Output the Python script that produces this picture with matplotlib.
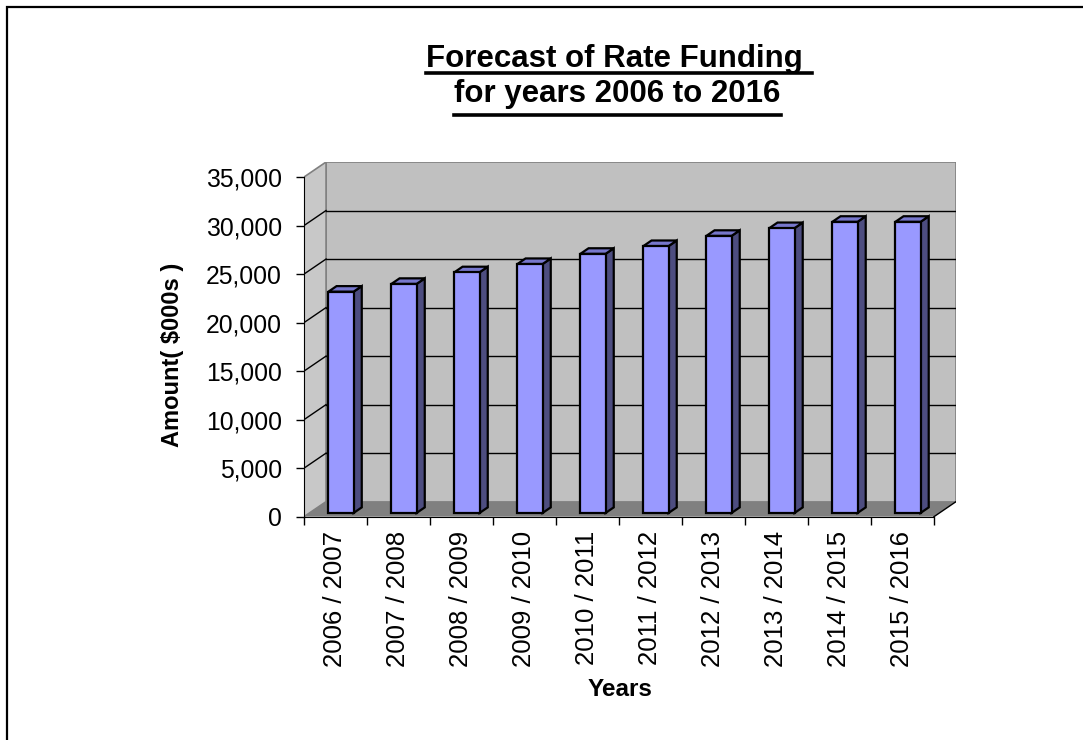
import numpy as np
import matplotlib.pyplot as plt
from matplotlib.patches import Polygon, Rectangle
from matplotlib.lines import Line2D
from matplotlib.ticker import StrMethodFormatter

plt.rcParams['font.family'] = ['Liberation Sans', 'DejaVu Sans']

# Daten
jahre = ['2006 / 2007', '2007 / 2008', '2008 / 2009', '2009 / 2010',
         '2010 / 2011', '2011 / 2012', '2012 / 2013', '2013 / 2014',
         '2014 / 2015', '2015 / 2016']
betraege = [22800, 23600, 24800, 25650, 26700, 27500, 28550, 29350, 30000, 30000]
y_ticks = [0, 5000, 10000, 15000, 20000, 25000, 30000, 35000]

# 3D-Versatz der Rueckwand (x in Kategorien, y in Werteinheiten)
DX, DY = 0.35, 1550
YMAX = 35000
F0, F1 = 0.25, 0.62      # Tiefe der Balken (Vorder-/Rueckseite)
BREITE = 0.4

fig = plt.figure(figsize=(10.83, 7.40), dpi=100)
ax = fig.add_axes([304 / 1083, 1 - 516.7 / 740, 652 / 1083, 354.7 / 740])
ax.patch.set_visible(False)
n = len(jahre)
ax.set_xlim(0, n + DX)
ax.set_ylim(0, YMAX + DY)

wand = '#c0c0c0'
rand = '#808080'
# Rueckwand, linke Wand, Boden
ax.add_patch(Rectangle((DX, DY), n, YMAX, facecolor=wand, edgecolor=rand,
                       lw=1.2, zorder=0.5))
ax.add_patch(Polygon([(0, 0), (DX, DY), (DX, YMAX + DY), (0, YMAX)],
                     facecolor='#c8c8c8', edgecolor=rand, lw=1.2, zorder=0.5))
ax.add_patch(Polygon([(0, 0), (n, 0), (n + DX, DY), (DX, DY)],
                     facecolor='#808080', edgecolor='none', zorder=0.6))
ax.plot([n, n + DX], [0, DY], color='black', lw=1, zorder=0.7)

# Gitterlinien auf Rueck- und Seitenwand
for v in y_ticks[1:-1]:
    ax.plot([DX, n + DX], [v + DY, v + DY], color='black', lw=1, zorder=1)
    ax.plot([0, DX], [v, v + DY], color='black', lw=1, zorder=1)

# Balken als Quader
for i, v in enumerate(betraege):
    x0 = i + 0.5 - BREITE / 2 + F0 * DX
    x1 = x0 + BREITE
    y0 = F0 * DY
    y1 = v + F0 * DY
    ddx = (F1 - F0) * DX
    ddy = (F1 - F0) * DY
    kw = dict(edgecolor='black', lw=1.6, joinstyle='miter', zorder=2)
    ax.add_patch(Polygon([(x1, y0), (x1 + ddx, y0 + ddy), (x1 + ddx, y1 + ddy), (x1, y1)],
                         facecolor='#4d4d80', **kw))
    ax.add_patch(Polygon([(x0, y1), (x1, y1), (x1 + ddx, y1 + ddy), (x0 + ddx, y1 + ddy)],
                         facecolor='#7777cc', **kw))
    ax.add_patch(Rectangle((x0, y0), BREITE, v, facecolor='#9999ff', **kw))

# Achsen
for s in ['top', 'right']:
    ax.spines[s].set_visible(False)
ax.spines['left'].set_bounds(0, YMAX)
ax.spines['bottom'].set_bounds(0, n)
ax.spines['left'].set_zorder(3)
ax.spines['bottom'].set_zorder(3)

ax.set_yticks(y_ticks)
ax.yaxis.set_major_formatter(StrMethodFormatter('{x:,.0f}'))
ax.tick_params(axis='y', length=6, width=1, pad=10, labelsize=17.8)
ax.set_xticks(np.arange(n + 1))
ax.set_xticklabels([])
ax.set_xticks(np.arange(n) + 0.5, minor=True)
ax.set_xticklabels(jahre, minor=True, rotation=90)
ax.tick_params(axis='x', which='major', length=6, width=1)
ax.tick_params(axis='x', which='minor', length=0, pad=10, labelsize=18.5)

ax.set_ylabel('Amount( $000s )', fontsize=17, fontweight='bold')
ax.yaxis.label.set_va('center')
ax.yaxis.set_label_coords((173 - 304) / 652, 0.457)
ax.set_xlabel('Years', fontsize=17.5, fontweight='bold')
ax.xaxis.label.set_va('center')
ax.xaxis.set_label_coords((620 - 304) / 652, (516.7 - 690) / 354.7)

# Titel mit Unterstreichung
t1 = fig.text(619 / 1083, 1 - 66.7 / 740, 'Forecast of Rate Funding ', ha='center',
              va='baseline', fontsize=22.5, fontweight='bold')
t2 = fig.text(617.5 / 1083, 1 - 102 / 740, 'for years 2006 to 2016', ha='center',
              va='baseline', fontsize=22.5, fontweight='bold')
renderer = fig.canvas.get_renderer()
for t, yu in [(t1, 72.7), (t2, 115)]:
    bb = t.get_window_extent(renderer)
    fig.add_artist(Line2D([bb.x0 / 1083, bb.x1 / 1083], [1 - yu / 740, 1 - yu / 740],
                          transform=fig.transFigure, color='black', lw=2.6))

# Rahmen um das Diagramm
fig.add_artist(Rectangle((7 / 1083, -0.1), 1.2, 1.1 - 7 / 740, transform=fig.transFigure,
                         fill=False, edgecolor='black', lw=1.6))

fig.savefig('out.png', dpi=100)
